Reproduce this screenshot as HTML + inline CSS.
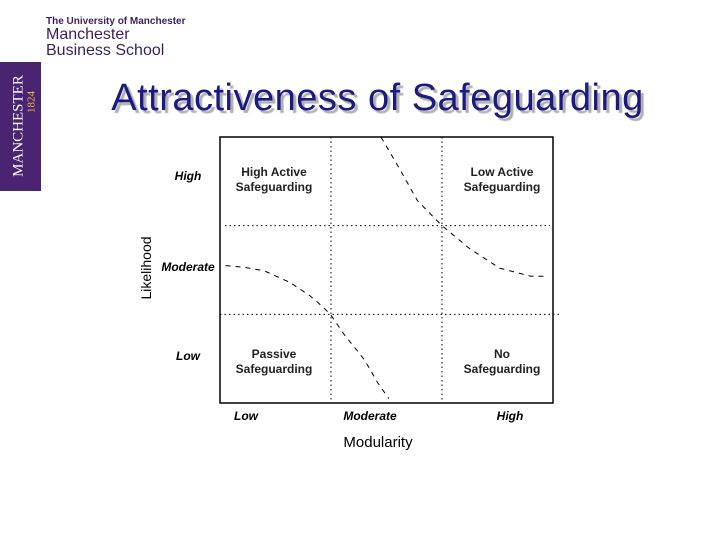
<!DOCTYPE html>
<html><head><meta charset="utf-8"><style>
body{margin:0;width:720px;height:540px;background:#fff;position:relative;overflow:hidden;font-family:"Liberation Sans",Arial,sans-serif}
.abs{position:absolute}
</style></head><body>
<div class="abs" style="left:46px;top:16px;font-size:10px;color:#3b1f5c;font-weight:bold">The University of Manchester</div>
<div class="abs" style="left:46px;top:27px;font-size:16px;line-height:16px;color:#3b1f5c">Manchester<br>Business School</div>
<div class="abs" style="left:0;top:62px;width:41px;height:129px;background:#4a2470">
 <div style="position:absolute;left:19px;top:64px;transform:translate(-50%,-50%) rotate(-90deg);white-space:nowrap;font-family:'Liberation Serif',serif;color:#fff;font-size:15px;line-height:15px">MANCHESTER</div>
 <div style="position:absolute;left:32px;top:40px;transform:translate(-50%,-50%) rotate(-90deg);white-space:nowrap;font-family:'Liberation Serif',serif;color:#e8b84a;font-size:11px;line-height:11px">1824</div>
</div>
<div class="abs" style="left:0;width:755px;text-align:center;top:77px;font-size:38px;letter-spacing:0.5px;color:#1a1a80;text-shadow:3px 3px 1px #b0b0b0">Attractiveness of Safeguarding</div>
<svg class="abs" style="left:0;top:0" width="720" height="540">
<g id="g"></g>
</svg>
<script>
const xCats=["Low","Moderate","High"];
const yCats=["High","Moderate","Low"];
const quadLabels=[["High Active","Safeguarding",0,0],["Low Active","Safeguarding",2,0],["Passive","Safeguarding",0,2],["No","Safeguarding",2,2]];
const curveA_x=[1.45,1.6,1.78,2.0,2.25,2.52,2.8,2.95];
const curveA_y=[3.0,2.68,2.28,2.0,1.74,1.52,1.43,1.43];
const curveB_x=[0.05,0.22,0.4,0.63,0.81,0.93,1.0,1.12,1.3,1.42,1.52];
const curveB_y=[1.55,1.53,1.49,1.36,1.21,1.08,0.99,0.77,0.49,0.23,0.05];
const L=220,R=553,T=137,B=403;
const sx=v=>L+v*(R-L)/3, sy=v=>B-v*(B-T)/3;
const g=document.getElementById('g');const NS="http://www.w3.org/2000/svg";
function mk(t,a,name){const e=document.createElementNS(NS,t);for(const k in a)e.setAttribute(k,a[k]);


g.appendChild(e);return e;}
mk('rect',{x:L,y:T,width:R-L,height:B-T,fill:'none',stroke:'#000','stroke-width':1.5},'plot-frame');
[1,2].forEach(i=>mk('line',{x1:sx(i),x2:sx(i),y1:T,y2:B,stroke:'#000','stroke-dasharray':'1.5,3'},'vertical-grid-line'));
mk('line',{x1:L+5,x2:550,y1:sy(2),y2:sy(2),stroke:'#000','stroke-dasharray':'1.5,3'},'horizontal-grid-line');
mk('line',{x1:L,x2:560,y1:sy(1),y2:sy(1),stroke:'#000','stroke-dasharray':'1.5,3'},'horizontal-grid-line');
function curve(xs,ys,name){mk('path',{d:xs.map((x,i)=>(i?'L':'M')+sx(x)+','+sy(ys[i])).join(''),fill:'none',stroke:'#000','stroke-dasharray':'5,5'},name);}
curve(curveA_x,curveA_y,'upper-curve');curve(curveB_x,curveB_y,'lower-curve');
xCats.forEach((c,i)=>{const t=mk('text',{x:[246,370,510][i],y:420,'text-anchor':'middle','font-size':12,'font-style':'italic','font-weight':'bold'},'x-tick-label');t.textContent=c;});
yCats.forEach((c,i)=>{const t=mk('text',{x:[188,188,188][i],y:[180,271,360][i],'text-anchor':'middle','font-size':12,'font-style':'italic','font-weight':'bold'},'y-tick-label');t.textContent=c;});
quadLabels.forEach(q=>{const cx=q[2]==0?274:502,cy=q[3]==0?176:358;
[0,1].forEach(j=>{const t=mk('text',{x:cx,y:cy+j*15,'text-anchor':'middle','font-size':12,'font-weight':'bold',fill:'#222'},'quadrant-label');t.textContent=q[j];});});
const xt=mk('text',{x:378,y:447,'text-anchor':'middle','font-size':15},'x-axis-title');xt.textContent="Modularity";
const yt=mk('text',{x:0,y:0,transform:'translate(151,268) rotate(-90)','text-anchor':'middle','font-size':14},'y-axis-title');yt.textContent="Likelihood";
</script>
</body></html>
